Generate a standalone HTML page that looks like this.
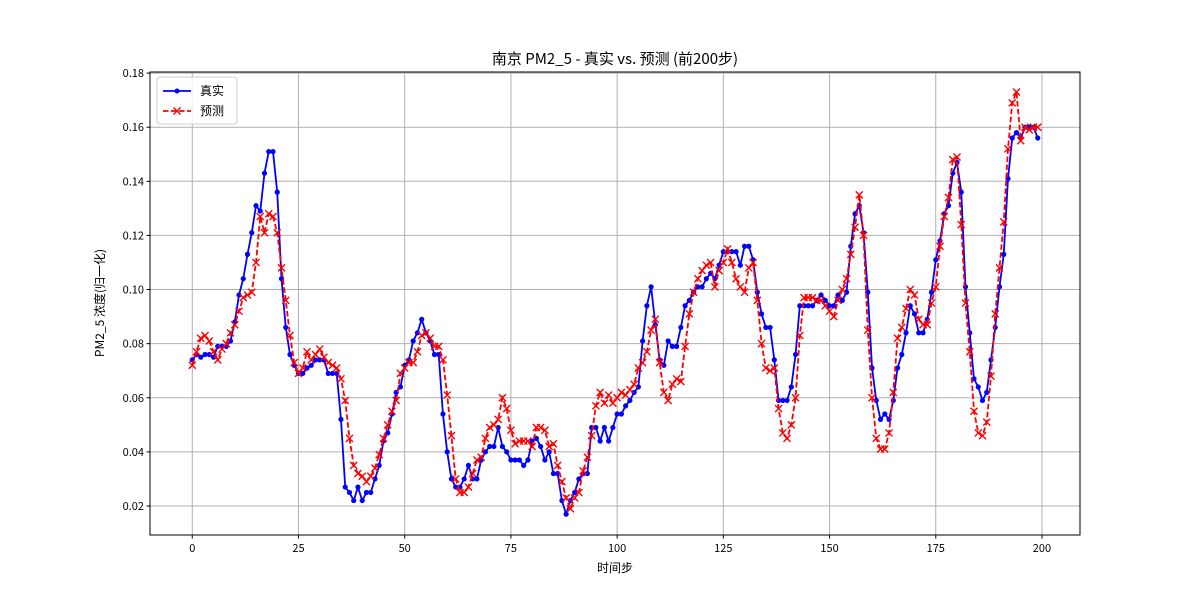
<!DOCTYPE html>
<html><head><meta charset="utf-8"><style>
body{margin:0;background:#fff}
svg text{font-family:"WenQuanYi Zen Hei","Noto Sans CJK SC",sans-serif;fill:#000}
</style></head><body>
<svg id="chart" width="1200" height="600" xmlns="http://www.w3.org/2000/svg">
<rect width="1200" height="600" fill="#fff"/>
<g id="grid"></g>
<g id="series"></g>
<rect x="150" y="72" width="930" height="463" fill="none" stroke="#000" stroke-width="1"/>
<g id="ticks"></g>
<text x="615" y="64" font-size="15" text-anchor="middle">南京 PM2_5 - 真实 vs. 预测 (前200步)</text>
<text x="615" y="572" font-size="12" text-anchor="middle">时间步</text>
<text x="104" y="303" font-size="12" text-anchor="middle" transform="rotate(-90 104 303)">PM2_5 浓度(归一化)</text>
<g>
<rect x="157" y="77" width="80" height="47" fill="#fff" fill-opacity="0.8" stroke="#ccc" rx="3"/>
<line x1="163" y1="91" x2="191" y2="91" stroke="#0000ff" stroke-width="1.8"/>
<circle cx="177" cy="91" r="2.5" fill="#0000ff"/>
<text x="200" y="95" font-size="12">真实</text>
<line x1="163" y1="111" x2="191" y2="111" stroke="#ff0000" stroke-width="1.8" stroke-dasharray="5.5,2.5"/>
<path d="M173.5 107.5L180.5 114.5M180.5 107.5L173.5 114.5" stroke="#ff0000" stroke-width="1.4"/>
<text x="200" y="115" font-size="12">预测</text>
</g>
</svg>
<script>
const xTicks=[0,25,50,75,100,125,150,175,200];
const yTicks=[0.02,0.04,0.06,0.08,0.10,0.12,0.14,0.16,0.18];
const yTickLabels=["0.02","0.04","0.06","0.08","0.10","0.12","0.14","0.16","0.18"];
const trueVals=[.074,.076,.075,.076,.076,.075,.079,.079,.079,.081,.088,.098,.104,.113,.121,.131,.129,.143,.151,.151,.136,.104,.086,.076,.072,.069,.069,.071,.072,.074,.074,.074,.069,.069,.069,.052,.027,.025,.022,.027,.022,.025,.025,.030,.035,.044,.047,.054,.062,.064,.072,.074,.081,.084,.089,.084,.081,.076,.076,.054,.040,.030,.027,.027,.030,.035,.030,.030,.037,.040,.042,.042,.049,.042,.040,.037,.037,.037,.035,.037,.044,.045,.042,.037,.040,.032,.032,.022,.017,.022,.025,.030,.032,.032,.049,.049,.044,.049,.044,.049,.054,.054,.057,.059,.062,.064,.081,.094,.101,.087,.074,.072,.081,.079,.079,.086,.094,.096,.099,.101,.101,.104,.106,.104,.109,.114,.114,.114,.114,.109,.116,.116,.111,.099,.091,.086,.086,.074,.059,.059,.059,.064,.076,.094,.094,.094,.094,.096,.098,.096,.094,.094,.098,.096,.099,.116,.128,.131,.121,.099,.071,.059,.052,.054,.052,.059,.071,.076,.084,.094,.091,.084,.084,.089,.099,.111,.118,.128,.131,.143,.147,.136,.101,.084,.067,.064,.059,.062,.074,.086,.101,.113,.141,.156,.158,.156,.160,.160,.160,.156];
const predVals=[.072,.077,.082,.083,.081,.077,.074,.078,.080,.084,.087,.092,.097,.098,.099,.110,.127,.121,.128,.127,.121,.108,.096,.083,.073,.069,.071,.077,.074,.076,.078,.075,.073,.072,.071,.067,.059,.045,.035,.032,.031,.029,.031,.034,.039,.045,.050,.055,.059,.069,.071,.073,.073,.077,.083,.084,.082,.079,.079,.074,.061,.046,.030,.025,.025,.027,.032,.037,.038,.045,.049,.050,.052,.060,.056,.048,.043,.044,.044,.044,.042,.049,.049,.048,.042,.043,.035,.029,.023,.019,.023,.025,.033,.038,.046,.057,.062,.058,.061,.058,.060,.062,.061,.063,.065,.071,.073,.077,.085,.089,.073,.062,.059,.065,.067,.066,.079,.091,.099,.104,.107,.109,.110,.101,.107,.110,.115,.110,.104,.101,.099,.108,.110,.096,.080,.071,.070,.071,.056,.047,.045,.050,.060,.083,.097,.097,.097,.096,.096,.094,.092,.090,.096,.100,.104,.113,.123,.135,.120,.085,.060,.045,.041,.041,.047,.062,.082,.086,.093,.100,.098,.089,.087,.087,.095,.101,.116,.127,.134,.148,.149,.124,.095,.077,.055,.047,.046,.051,.068,.091,.108,.125,.152,.169,.173,.155,.160,.159,.160,.160];

const NS="http://www.w3.org/2000/svg";
const X0=150,X1=1080,Y0=535,Y1=72,xmin=-9.95,xmax=208.95,ymin=0.00928,ymax=0.1804;
const xs=v=>X0+(v-xmin)/(xmax-xmin)*(X1-X0);
const ys=v=>Y0-(v-ymin)/(ymax-ymin)*(Y0-Y1);
function mk(tag,attrs,parent){const e=document.createElementNS(NS,tag);for(const k in attrs)e.setAttribute(k,attrs[k]);parent.appendChild(e);return e;}
const grid=document.getElementById('grid'),ticks=document.getElementById('ticks'),ser=document.getElementById('series');
xTicks.forEach(t=>{const x=xs(t);
 const g=mk('line',{x1:x,x2:x,y1:Y1,y2:Y0,stroke:'#b0b0b0','stroke-width':1},grid);
 
 
 mk('line',{x1:x,x2:x,y1:Y0,y2:Y0+3.5,stroke:'#000'},ticks);
 const tx=mk('text',{x:x,y:Y0+17,'font-size':11,'text-anchor':'middle'},ticks);tx.textContent=t;
 
 
});
yTicks.forEach((t,i)=>{const y=ys(t);
 const g=mk('line',{x1:X0,x2:X1,y1:y,y2:y,stroke:'#b0b0b0','stroke-width':1},grid);
 
 
 mk('line',{x1:X0-3.5,x2:X0,y1:y,y2:y,stroke:'#000'},ticks);
 const tx=mk('text',{x:X0-6,y:y+4,'font-size':11,'text-anchor':'end'},ticks);tx.textContent=yTickLabels[i];
 
 
});
const tp=trueVals.map((v,i)=>xs(i).toFixed(2)+','+ys(v).toFixed(2)).join(' ');
const l1=mk('polyline',{points:tp,fill:'none',stroke:'#0000ff','stroke-width':1.8},ser);


trueVals.forEach((v,i)=>{const c=mk('circle',{cx:xs(i),cy:ys(v),r:2.6,fill:'#0000ff'},ser);
 
 });
const pp=predVals.map((v,i)=>xs(i).toFixed(2)+','+ys(v).toFixed(2)).join(' ');
const l2=mk('polyline',{points:pp,fill:'none',stroke:'#ff0000','stroke-width':1.8,'stroke-dasharray':'5.5,2.5'},ser);


predVals.forEach((v,i)=>{const x=xs(i),y=ys(v),s=3.5;
 const p=mk('path',{d:`M${x-s} ${y-s}L${x+s} ${y+s}M${x+s} ${y-s}L${x-s} ${y+s}`,stroke:'#ff0000','stroke-width':1.4},ser);
 
 });
</script>
</body></html>
